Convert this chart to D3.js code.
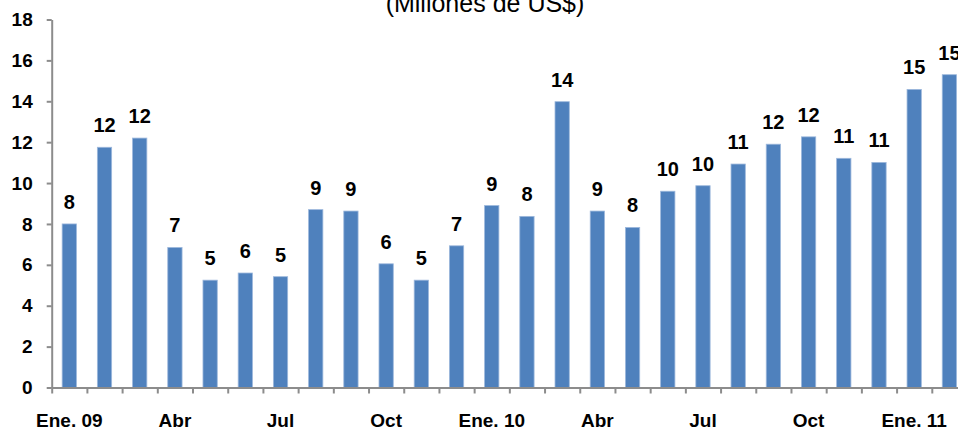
<!DOCTYPE html>
<html>
<head>
<meta charset="utf-8">
<script src="https://cdn.jsdelivr.net/npm/d3@7"></script>
<style>
	body{margin:0;background:#fff;}
	text{font-family:Arial,"Liberation Sans",sans-serif;}
</style>
</head>
<body>
<script>
// meses: Ene.09 - Feb.11
var months = ["Ene. 09","Feb","Mar","Abr","May","Jun","Jul","Ago","Sep","Oct","Nov","Dic",
	"Ene. 10","Feb","Mar","Abr","May","Jun","Jul","Ago","Sep","Oct","Nov","Dic",
	"Ene. 11","Feb"];
var values = [8.0,11.75,12.2,6.85,5.25,5.6,5.42,8.7,8.63,6.05,5.25,6.93,
	8.9,8.37,13.98,8.63,7.83,9.6,9.87,10.93,11.9,12.26,11.21,11.01,
	14.58,15.3];
var shownLabels = [0,3,6,9,12,15,18,21,24];
var yTicks = [0,2,4,6,8,10,12,14,16,18];
var title = "(Millones de US$)";

var width = 958, height = 430;
var left = 51.7, right = 967, top0 = 19.5, bottom = 387.5;

var svg = d3.select("body")
			.append("svg")
			.attr("width",width)
			.attr("height",height);

var x = d3.scaleBand()
		.domain(d3.range(values.length))
		.range([left,right])
		.paddingInner(0.594)
		.paddingOuter(0.297);

// borders between months
var xb = d3.scaleLinear()
		.domain([0,values.length])
		.range([left,right]);

var y = d3.scaleLinear()
		.domain([0,18])
		.range([bottom,top0]);

// title (cut at the top)
svg.append("text")
	.attr("x",485)
	.attr("y",12)
	.attr("text-anchor","middle")
	.style("font-size","25px")
	.text(title);

// bars
svg.selectAll("rect.bar")
	.data(values)
	.enter()
	.append("rect")
	.attr("class","bar")
	.attr("x",function(d,i){return x(i);})
	.attr("y",function(d){return y(d);})
	.attr("width",x.bandwidth())
	.attr("height",function(d){return bottom-y(d);})
	.attr("fill","#4f81bd")
	.attr("stroke","#9db8dc")
	.attr("stroke-width",0.8);

// value labels
svg.selectAll("text.val")
	.data(values)
	.enter()
	.append("text")
	.attr("class","val")
	.attr("x",function(d,i){return x(i)+x.bandwidth()/2;})
	.attr("y",function(d){return y(d)-15;})
	.attr("text-anchor","middle")
	.style("font-size","20px")
	.style("font-weight","bold")
	.text(function(d){return d3.format(".0f")(d);});

// y axis
var yAxis = svg.append("g")
	.attr("transform","translate("+left+",0)")
	.call(d3.axisLeft(y).tickValues(yTicks).tickSize(5).tickSizeOuter(0).tickPadding(14));

// x axis: tick marks on borders
var xAxis = svg.append("g")
	.attr("transform","translate(0,"+bottom+")")
	.call(d3.axisBottom(xb).tickValues(d3.range(values.length+1)).tickSize(6).tickSizeOuter(0).tickFormat(""));

// x labels
var xLab = svg.append("g")
	.attr("transform","translate(0,"+bottom+")")
	.call(d3.axisBottom(x).tickValues(shownLabels).tickSize(0).tickPadding(26).tickFormat(function(i){return months[i];}));
xLab.select(".domain").remove();

svg.selectAll(".domain").attr("stroke","#8c8c8c").attr("stroke-width",2);
svg.selectAll(".tick line").attr("stroke","#8c8c8c").attr("stroke-width",2);
svg.selectAll(".tick text")
	.attr("fill","#000")
	.style("font-size","19px")
	.style("font-weight","bold")
	.style("font-family","Arial,'Liberation Sans',sans-serif");
</script>
</body>
</html>
